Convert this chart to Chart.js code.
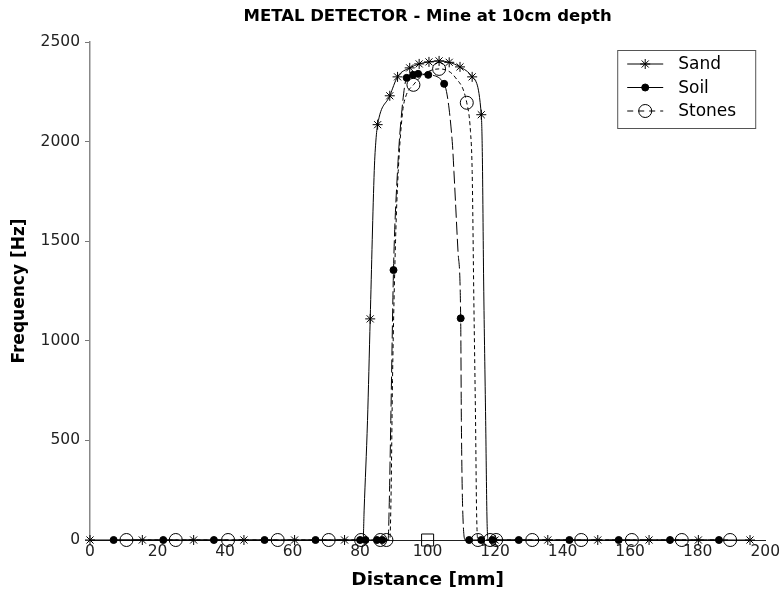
<!DOCTYPE html>
<html>
<head>
<meta charset="utf-8">
<title>METAL DETECTOR - Mine at 10cm depth</title>
<script src="https://cdn.jsdelivr.net/npm/chart.js@4.4.0/dist/chart.umd.min.js"></script>
<style>
    html, body { margin: 0; padding: 0; background: #fff; }
    #wrap { width: 783px; height: 596px; position: relative; }
</style>
</head>
<body>
<div id="wrap"><canvas id="detectorChart"></canvas></div>
<script>
// Distance [mm], frequency [Hz] pairs

// Marked measurement points
const sandMarks = [
    [0, 0], [15.5, 0], [30.7, 0], [45.6, 0], [60.6, 0], [75.4, 0],
    [83, 1110], [85.2, 2085], [88.8, 2230], [91.1, 2325], [94.7, 2370], [97.5, 2390],
    [100.4, 2400], [103.4, 2405], [106.4, 2398], [109.6, 2375], [113.2, 2325], [115.9, 2135],
    [120, 0], [135.6, 0], [150.4, 0], [165.6, 0], [180.2, 0], [195.5, 0]
];
const soilMarks = [
    [7, 0], [21.7, 0], [36.7, 0], [51.7, 0], [66.8, 0], [80, 0], [81.6, 0], [85, 0], [86.6, 0],
    [89.9, 1355], [93.8, 2320], [95.7, 2335], [97.2, 2340], [100.2, 2335], [104.9, 2290], [109.8, 1113],
    [112.3, 0], [115.9, 0], [119.2, 0], [127, 0], [142, 0], [156.6, 0], [171.8, 0], [186.3, 0]
];
const stonesMarks = [
    [10.8, 0], [25.4, 0], [40.9, 0], [55.6, 0], [70.7, 0], [80.3, 0], [86, 0], [87.8, 0],
    [95.8, 2285], [103.4, 2365], [111.6, 2195],
    [114.9, 0], [118.5, 0], [120.3, 0], [131, 0], [145.5, 0], [160.5, 0], [175.3, 0], [189.6, 0]
];
const mineMark = [[100, 0]];

// Unmarked points on the curves (where they leave and rejoin the baseline)
const sandBends = [
    [80.9, 0], [81.2, 150], [82.2, 600], [84.2, 1855], [84.7, 2008],
    [116.2, 1950], [116.6, 1300], [117.2, 600], [117.6, 100], [118, 0]
];
const soilBends = [
    [88.3, 0], [88.6, 150], [89.1, 600], [91.1, 1855], [92.4, 2160],
    [107.3, 2000], [107.8, 1850], [109.0, 1450], [110.0, 600], [110.4, 150], [111.2, 0]
];
const stonesBends = [
    [88.8, 0], [89.2, 250], [89.6, 800], [90.5, 1500], [91.3, 1850], [92.6, 2150], [93.5, 2225],
    [99.5, 2345], [108.3, 2320], [112.7, 2050], [113.2, 1850], [113.7, 1200], [114.2, 600], [114.5, 150]
];

// Axis ticks
const xTicks = [0, 20, 40, 60, 80, 100, 120, 140, 160, 180, 200];
const yTicks = [0, 500, 1000, 1500, 2000, 2500];

document.addEventListener('DOMContentLoaded', function() {
    const toPoints = arr => arr.map(p => ({ x: p[0], y: p[1] }));
    const curveOf = (marks, bends) => toPoints(marks.concat(bends).sort((a, b) => a[0] - b[0]));

    Chart.defaults.font.family = '"DejaVu Sans", sans-serif';
    Chart.defaults.color = '#222';

    // Series look: line style + marker
    const series = [
        { label: 'Sand', marks: sandMarks, bends: sandBends, dash: [], legendDash: [],
          pointStyle: 'star', radius: 5, fill: 'rgba(0,0,0,0)' },
        { label: 'Soil', marks: soilMarks, bends: soilBends, dash: [13, 4], legendDash: [],
          pointStyle: 'circle', radius: 3.5, fill: '#000' },
        { label: 'Stones', marks: stonesMarks, bends: stonesBends, dash: [4, 3], legendDash: [6, 5],
          pointStyle: 'circle', radius: 6.5, fill: 'rgba(0,0,0,0)' }
    ];

    const datasets = [];
    series.forEach(s => {
        // smooth curve
        datasets.push({
            label: s.label,
            data: curveOf(s.marks, s.bends),
            borderColor: '#000',
            borderWidth: 1,
            borderDash: s.dash,
            pointRadius: 0,
            cubicInterpolationMode: 'monotone',
            clip: false
        });
        // markers
        datasets.push({
            label: s.label + ' markers',
            data: toPoints(s.marks),
            showLine: false,
            pointStyle: s.pointStyle,
            pointRadius: s.radius,
            pointBorderWidth: 1,
            pointBorderColor: '#000',
            pointBackgroundColor: s.fill,
            clip: false
        });
    });
    datasets.push({
        label: 'Mine',
        data: toPoints(mineMark),
        showLine: false,
        pointStyle: 'rect',
        pointRadius: 8.5,
        pointBorderWidth: 1,
        pointBorderColor: '#000',
        pointBackgroundColor: 'rgba(0,0,0,0)',
        clip: false
    });

    // Boxed legend, line with marker in the middle
    const boxLegend = {
        id: 'boxLegend',
        afterDraw(chart) {
            const ctx = chart.ctx;
            const area = chart.chartArea;
            const w = 138, h = 78;
            const left = area.right - w - 10;
            const top = area.top + 8;
            ctx.save();
            ctx.fillStyle = '#fff';
            ctx.fillRect(left, top, w, h);
            ctx.strokeStyle = '#555';
            ctx.lineWidth = 1;
            ctx.strokeRect(left + 0.5, top + 0.5, w, h);
            series.forEach((s, i) => {
                const y = top + 14 + i * 23.5;
                ctx.strokeStyle = '#000';
                ctx.lineWidth = 1;
                ctx.setLineDash(s.legendDash);
                ctx.beginPath();
                ctx.moveTo(left + 10, y);
                ctx.lineTo(left + 46, y);
                ctx.stroke();
                ctx.setLineDash([]);
                ctx.fillStyle = s.fill;
                Chart.helpers.drawPoint(ctx, { pointStyle: s.pointStyle, radius: s.radius, rotation: 0, borderWidth: 1 }, left + 28, y);
                ctx.fillStyle = '#000';
                ctx.font = '17px "DejaVu Sans"';
                ctx.textBaseline = 'middle';
                ctx.textAlign = 'left';
                ctx.fillText(s.label, left + 61, y + 1);
            });
            ctx.restore();
        }
    };

    const ctx = document.getElementById('detectorChart').getContext('2d');
    new Chart(ctx, {
        type: 'line',
        data: { datasets: datasets },
        options: {
            responsive: true,
            maintainAspectRatio: false,
            animation: false,
            events: [],
            layout: { padding: { left: 0, right: 16, top: 0, bottom: 0 } },
            scales: {
                x: {
                    type: 'linear',
                    min: 0,
                    max: 200,
                    afterBuildTicks: scale => { scale.ticks = xTicks.map(v => ({ value: v })); },
                    afterFit: scale => { scale.height = 56; },
                    ticks: { padding: 3, color: '#222', font: { size: 15.5 }, callback: v => String(v) },
                    grid: { drawOnChartArea: false, drawTicks: false },
                    border: { color: '#222', width: 1 },
                    title: {
                        display: true,
                        text: 'Distance [mm]',
                        color: '#000',
                        font: { size: 18.5, weight: 'bold' },
                        padding: { top: 0, bottom: 5 }
                    }
                },
                y: {
                    type: 'linear',
                    min: 0,
                    max: 2500,
                    afterBuildTicks: scale => { scale.ticks = yTicks.map(v => ({ value: v })); },
                    afterFit: scale => { scale.width = 90; },
                    ticks: { padding: 5, color: '#222', font: { size: 15.5 }, callback: v => String(v) },
                    grid: { drawOnChartArea: false, drawTicks: true, tickLength: 5, color: '#777' },
                    border: { color: '#888', width: 1.5 },
                    title: {
                        display: true,
                        text: 'Frequency [Hz]',
                        color: '#000',
                        font: { size: 17, weight: 'bold' },
                        padding: { top: 9, bottom: 0 }
                    }
                }
            },
            plugins: {
                legend: { display: false },
                tooltip: { enabled: false },
                title: {
                    display: true,
                    fullSize: false,
                    text: 'METAL DETECTOR - Mine at 10cm depth',
                    color: '#000',
                    font: { size: 16.5, weight: 'bold' },
                    padding: { top: 7, bottom: 15.2 }
                }
            }
        },
        plugins: [boxLegend]
    });
});
</script>
</body>
</html>
